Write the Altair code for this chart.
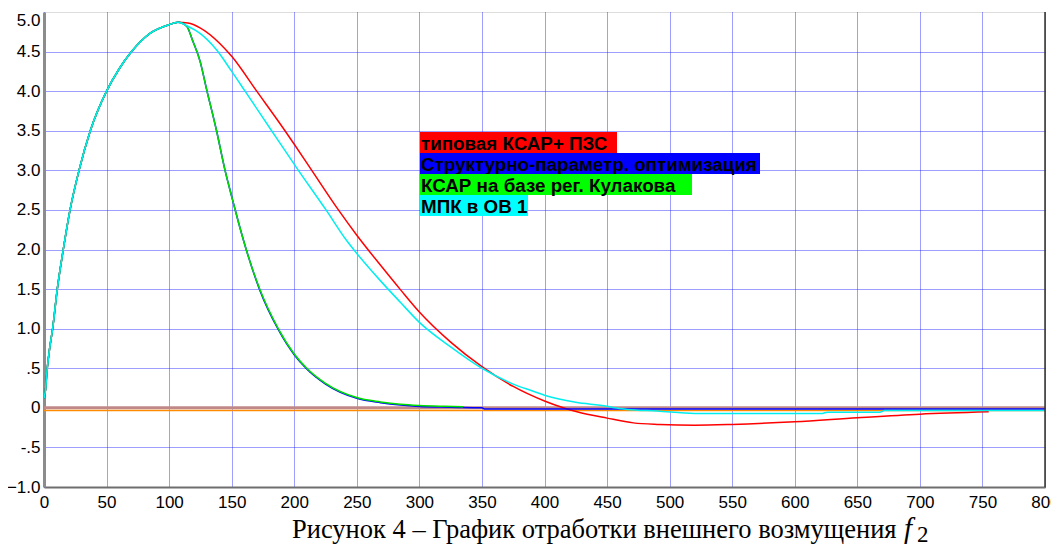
import altair as alt
import pandas as pd

# ---- data ----
rise_t = [0, 0.5, 1, 2.6, 4.5, 6.9, 10.6, 15.4, 20.8, 28, 37, 50, 60, 70, 84.7, 100, 107]
rise_y = [0.12, 0.16, 0.2, 0.5, 0.75, 1.0, 1.5, 2.0, 2.5, 3.0, 3.5, 4.0, 4.28, 4.5, 4.73, 4.84, 4.87]

red_t = [115, 124.7, 140.7, 150, 170, 192.6, 200, 214, 235.3, 250, 269, 285, 300, 325, 350,
         375, 400, 415, 426, 450, 471, 492, 520, 550, 600, 650, 700, 755]
red_y = [4.86, 4.8, 4.6, 4.44, 4.0, 3.5, 3.33, 3.0, 2.5, 2.18, 1.80, 1.49, 1.21, 0.83, 0.52,
         0.27, 0.086, 0.0, -0.05, -0.13, -0.19, -0.21, -0.22, -0.21, -0.176, -0.125, -0.08, -0.05]

blue_t = [114, 119, 124.7, 130, 137.9, 144.7, 150, 155.3, 161.6, 172.4, 187.2, 200, 210, 225,
          250, 269, 285, 300, 325, 350, 352, 800]
blue_y = [4.82, 4.63, 4.38, 4.02, 3.5, 3.0, 2.67, 2.35, 2.0, 1.49, 0.99, 0.67, 0.49, 0.3,
          0.12, 0.065, 0.035, 0.018, 0.008, 0.0, -0.015, -0.015]

green_t = [114, 119, 124.7, 130, 137.9, 144.7, 150, 155.3, 161.6, 172.4, 187.2, 200, 210, 225,
           250, 269, 285, 300, 320, 335]
green_y = [4.82, 4.63, 4.38, 4.02, 3.5, 3.0, 2.67, 2.35, 2.0, 1.5, 1.0, 0.68, 0.5, 0.31,
           0.13, 0.075, 0.045, 0.03, 0.02, 0.015]

cyan_t = [115, 124.7, 138, 150, 160.7, 181.9, 203.3, 225.4, 242, 250, 268.6, 285, 300, 325, 350,
          375, 391, 400, 425, 450, 456, 466, 490, 520, 622, 626, 668, 672, 800]
cyan_y = [4.82, 4.73, 4.52, 4.25, 4.0, 3.5, 3.0, 2.5, 2.11, 1.95, 1.61, 1.33, 1.08, 0.77, 0.50,
          0.30, 0.21, 0.16, 0.07, 0.02, 0.0, -0.02, -0.04, -0.07, -0.07, -0.055, -0.055, -0.035, -0.035]

base_t = [0, 800]
brown_y = [0.0, 0.0]
orange_y = [-0.035, -0.035]

x_ticks = list(range(0, 801, 50))
y_ticks = [-1.0 + 0.5 * i for i in range(13)]

legend_labels = ["типовая КСАР+ ПЗС", "Структурно-параметр. оптимизация",
                 "КСАР на базе рег. Кулакова", "МПК в ОВ 1"]
legend_colors = ["#ff0000", "#0000ff", "#00ff00", "#00ffff"]
legend_widths = [197, 340, 272, 108]

caption = "Рисунок 4 – График отработки внешнего возмущения"

# ---- chart ----
W, H = 1001, 475

grid_col = "#1a1aff"
x_axis = alt.Axis(values=x_ticks, title=None, grid=True, ticks=False, labelFlush=False,
                  labelFont="Liberation Sans", labelFontSize=17, labelColor="black",
                  labelPadding=7, domainColor="#6e6e6e", domainWidth=2,
                  gridColor=grid_col, gridDash=[1, 1], gridOpacity=0.85, gridWidth=1)
y_axis = alt.Axis(values=y_ticks, title=None, grid=True, ticks=False, labelFlush=False,
                  labelFont="Liberation Sans", labelFontSize=17, labelColor="black",
                  labelPadding=4, domainColor="#8c8c8c", domainWidth=3,
                  labelExpr="datum.value == 0 ? '0' : (datum.value == 0.5 ? '.5' : (datum.value == -0.5 ? '-.5' : format(datum.value, '.1f')))",
                  labelBaseline={"condition": {"test": "datum.value == 5", "value": "top"}, "value": "middle"},
                  gridOpacity={"condition": {"test": "datum.value == 5", "value": 0}, "value": 0.85},
                  gridColor=grid_col, gridDash=[1, 1], gridWidth=1)

xs = alt.Scale(domain=[0, 800], nice=False, zero=False)
ys = alt.Scale(domain=[-1, 5], nice=False, zero=False)


def line(ts, ys_, color, width=1.5):
    df = pd.DataFrame({"t": ts, "y": ys_})
    return alt.Chart(df).mark_line(color=color, strokeWidth=width, clip=True,
                                   interpolate="monotone").encode(
        x=alt.X("t:Q", scale=xs, axis=x_axis),
        y=alt.Y("y:Q", scale=ys, axis=y_axis),
    )


layers = [
    line(base_t, brown_y, "#c08888", 3),
    line(base_t, orange_y, "#ff8c00", 1.5),
    line(rise_t + red_t, rise_y + red_y, legend_colors[0]),
    line(rise_t + blue_t, rise_y + blue_y, legend_colors[1]),
    line(rise_t + green_t, rise_y + green_y, "#00e000"),
    line(rise_t + cyan_t, rise_y + cyan_y, "#00eeee"),
]

dummy = pd.DataFrame({"a": [0]})
layers.append(alt.Chart(dummy).mark_rule(color="#333333", strokeWidth=1.5).encode(
    x=alt.value(W), y=alt.value(0), y2=alt.value(H)))

box_x, box_top, box_h = 376, 120, 21
for i, (lab, col, w) in enumerate(zip(legend_labels, legend_colors, legend_widths)):
    top = box_top + i * box_h
    layers.append(alt.Chart(dummy).mark_rect(color=col).encode(
        x=alt.value(box_x), x2=alt.value(box_x + w), y=alt.value(top), y2=alt.value(top + box_h)))
    layers.append(alt.Chart(dummy).mark_text(
        text=lab, align="left", baseline="middle", font="Liberation Sans", fontWeight="bold",
        fontSize=18.8, color="black").encode(x=alt.value(box_x + 1), y=alt.value(top + box_h / 2 + 1)))

layers.append(alt.Chart(dummy).mark_text(
    text=caption, align="left", baseline="alphabetic", font="Liberation Serif",
    fontSize=26.5, color="black").encode(x=alt.value(248), y=alt.value(526)))
layers.append(alt.Chart(dummy).mark_text(
    text="f", align="left", baseline="alphabetic", font="Liberation Serif", fontStyle="italic",
    fontSize=29, color="black").encode(x=alt.value(860), y=alt.value(526)))
layers.append(alt.Chart(dummy).mark_text(
    text="2", align="left", baseline="alphabetic", font="Liberation Serif",
    fontSize=23, color="black").encode(x=alt.value(873), y=alt.value(530)))

chart = alt.layer(*layers).properties(
    width=W, height=H,
    padding={"left": 36, "top": 4, "right": 6, "bottom": 59},
    autosize=alt.AutoSizeParams(type="none"),
).configure_view(stroke=None).configure(background="white")

chart.save("out.html", embed_options={"renderer": "svg", "actions": False})
